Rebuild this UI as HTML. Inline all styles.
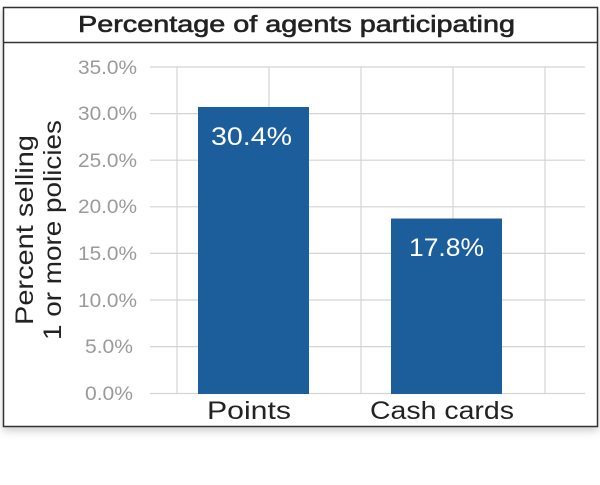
<!DOCTYPE html>
<html><head><style>body{margin:0;background:#fff;}</style></head><body>
<svg width="600" height="480" xmlns="http://www.w3.org/2000/svg" font-family="Liberation Sans, sans-serif">
<defs><filter id="s" x="-5%" y="-5%" width="110%" height="115%"><feDropShadow dx="0" dy="4" stdDeviation="4" flood-color="#000" flood-opacity="0.18"/></filter></defs>
<rect x="3.5" y="7.5" width="594" height="419" fill="#fff" stroke="#333" stroke-width="1.5" filter="url(#s)"/>
<line x1="3.5" y1="42.5" x2="597.5" y2="42.5" stroke="#333" stroke-width="1.5"/>
<text x="78" y="32" font-size="23" fill="#222" stroke="#222" stroke-width="0.6" textLength="437" lengthAdjust="spacingAndGlyphs">Percentage of agents participating</text>
<g stroke="#d4d4d4" stroke-width="1.2">
<line x1="150" y1="67" x2="585" y2="67"/><line x1="150" y1="113.6" x2="585" y2="113.6"/><line x1="150" y1="160.2" x2="585" y2="160.2"/><line x1="150" y1="206.8" x2="585" y2="206.8"/><line x1="150" y1="253.4" x2="585" y2="253.4"/><line x1="150" y1="300" x2="585" y2="300"/><line x1="150" y1="346.6" x2="585" y2="346.6"/><line x1="150" y1="393.5" x2="585" y2="393.5"/>
<line x1="177" y1="67" x2="177" y2="393.5"/><line x1="269" y1="67" x2="269" y2="393.5"/><line x1="361" y1="67" x2="361" y2="393.5"/><line x1="453" y1="67" x2="453" y2="393.5"/><line x1="545" y1="67" x2="545" y2="393.5"/>
</g>
<g font-size="19" fill="#9a9a9a" text-anchor="end">
<text x="137" y="74" textLength="59" lengthAdjust="spacingAndGlyphs">35.0%</text><text x="137" y="120" textLength="59" lengthAdjust="spacingAndGlyphs">30.0%</text><text x="137" y="167" textLength="59" lengthAdjust="spacingAndGlyphs">25.0%</text><text x="137" y="213" textLength="59" lengthAdjust="spacingAndGlyphs">20.0%</text><text x="137" y="260" textLength="59" lengthAdjust="spacingAndGlyphs">15.0%</text><text x="137" y="307" textLength="59" lengthAdjust="spacingAndGlyphs">10.0%</text><text x="133" y="353" textLength="48" lengthAdjust="spacingAndGlyphs">5.0%</text><text x="133" y="400" textLength="48" lengthAdjust="spacingAndGlyphs">0.0%</text>
</g>
<rect x="198" y="107" width="111" height="287" fill="#1c5d9b"/>
<rect x="391" y="218.5" width="111" height="175.5" fill="#1c5d9b"/>
<text x="211" y="145" font-size="25" fill="#fff" textLength="81" lengthAdjust="spacingAndGlyphs">30.4%</text>
<text x="409" y="256" font-size="25" fill="#fff" textLength="75" lengthAdjust="spacingAndGlyphs">17.8%</text>
<text x="207" y="419" font-size="25" fill="#222" textLength="84" lengthAdjust="spacingAndGlyphs">Points</text>
<text x="370" y="419" font-size="25" fill="#222" textLength="144" lengthAdjust="spacingAndGlyphs">Cash cards</text>
<g transform="translate(42,230) rotate(-90)" font-size="25" fill="#222" text-anchor="middle">
<text x="0" y="-9" textLength="190" lengthAdjust="spacingAndGlyphs">Percent selling</text><text x="0" y="19" textLength="220" lengthAdjust="spacingAndGlyphs">1 or more policies</text>
</g>
</svg>
</body></html>
